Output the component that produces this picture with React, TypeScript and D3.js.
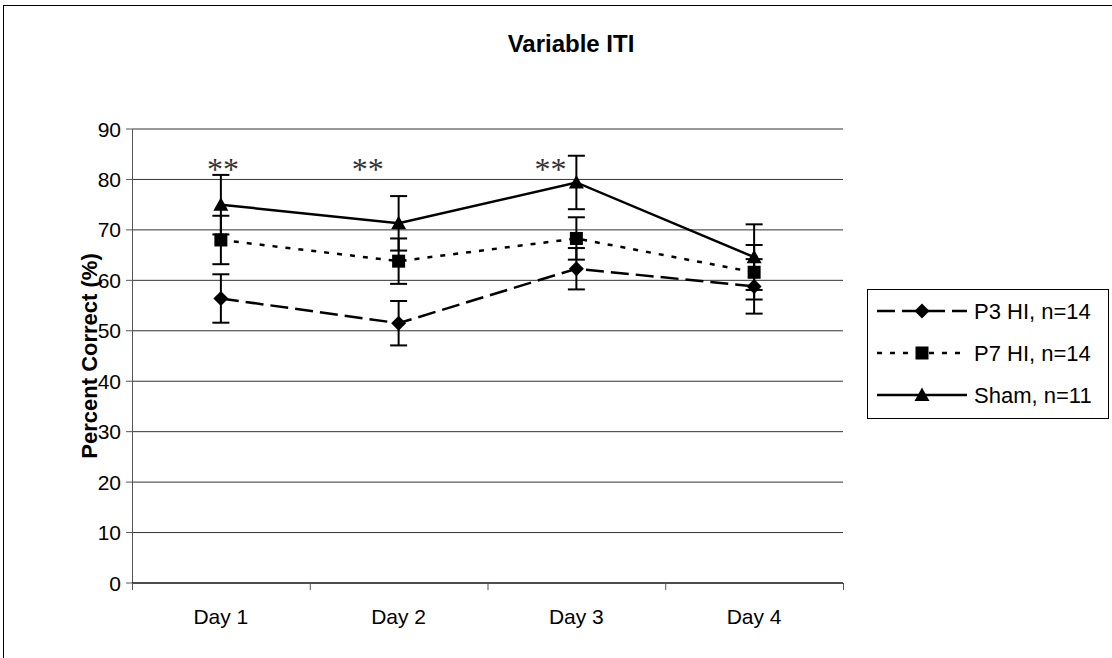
import * as React from 'react';
import * as d3 from 'd3';

const days = ['Day 1', 'Day 2', 'Day 3', 'Day 4'];
const yTicks = [0, 10, 20, 30, 40, 50, 60, 70, 80, 90];

const p3 = [56.4, 51.5, 62.3, 58.8];
const p3Err = [4.8, 4.4, 4.1, 5.4];
const p7 = [68.0, 63.8, 68.3, 61.6];
const p7Err = [4.8, 4.5, 4.2, 5.4];
const sham = [75.0, 71.3, 79.4, 64.6];
const shamErr = [5.9, 5.4, 5.3, 6.5];

const seriesNames = ['P3 HI, n=14', 'P7 HI, n=14', 'Sham, n=11'];
const sigDays = ['Day 1', 'Day 2', 'Day 3'];

const W = 1112;
const H = 658;
const font = "'Liberation Sans', Arial, sans-serif";

// marker shapes centred on 0,0
const diamond = 'M0,-7.5L7.5,0L0,7.5L-7.5,0Z';
const square = 'M-6.5,-6.5H6.5V6.5H-6.5Z';
const triangle = 'M0,-7.5L7.5,6L-7.5,6Z';

const series = [
  { name: seriesNames[0], values: p3, err: p3Err, dash: '18,7', marker: diamond },
  { name: seriesNames[1], values: p7, err: p7Err, dash: '5,8', marker: square },
  { name: seriesNames[2], values: sham, err: shamErr, dash: null, marker: triangle },
];

const App = () => {
  const x = d3.scaleBand().domain(days).range([132, 843]);
  const y = d3.scaleLinear().domain([0, 90]).range([583, 129]);
  const cx = (d) => x(d) + x.bandwidth() / 2;

  const line = d3.line()
    .x((d, i) => cx(days[i]))
    .y((d) => y(d));

  const bounds = [...days.map((d) => x(d)), 843];

  // significance marks sit a little left of the busiest error bars
  const sigShift = [2, -31, -26];

  const legendX = 867;
  const legendY = 289;
  const rowGap = 42;

  return (
    <svg width={W} height={H} style={{ position: 'absolute', left: 0, top: 0, background: '#fff' }}>
      <rect x={3.5} y={5.5} width={1130} height={700} fill="#fff" stroke="#000" strokeWidth={1} />

      <text x={571} y={52} textAnchor="middle" fontFamily={font} fontWeight="bold" fontSize={24}>
        Variable ITI
      </text>

      {/* gridlines */}
      {yTicks.map((t) => (
        <line key={'g' + t} x1={132} x2={843} y1={y(t)} y2={y(t)} stroke="#333" strokeWidth={1} />
      ))}
      {/* y axis */}
      <line x1={132.5} x2={132.5} y1={y(90)} y2={y(0) + 6} stroke="#555" strokeWidth={1} />
      {yTicks.map((t) => (
        <g key={'t' + t}>
          <line x1={126} x2={132} y1={y(t)} y2={y(t)} stroke="#555" />
          <text x={121} y={y(t)} dy="0.36em" textAnchor="end" fontFamily={font} fontSize={21}>
            {t}
          </text>
        </g>
      ))}
      {/* x axis */}
      <line x1={132} x2={843} y1={y(0)} y2={y(0)} stroke="#000" strokeWidth={1} />
      {bounds.map((b, i) => (
        <line key={'xb' + i} x1={b + 0.5} x2={b + 0.5} y1={y(0)} y2={y(0) + 7} stroke="#555" />
      ))}
      {days.map((d) => (
        <text key={d} x={cx(d)} y={624} textAnchor="middle" fontFamily={font} fontSize={21}>
          {d}
        </text>
      ))}

      <text
        transform={`translate(97,${(y(0) + y(90)) / 2}) rotate(-90)`}
        textAnchor="middle"
        fontFamily={font}
        fontWeight="bold"
        fontSize={22}
      >
        Percent Correct (%)
      </text>

      {series.map((s) => (
        <g key={s.name}>
          <path
            d={line(s.values)}
            fill="none"
            stroke="#000"
            strokeWidth={2.5}
            strokeDasharray={s.dash || undefined}
          />
          {s.values.map((v, i) => {
            const px = cx(days[i]);
            const top = y(v + s.err[i]);
            const bot = y(v - s.err[i]);
            return (
              <g key={i}>
                <line x1={px} x2={px} y1={top} y2={bot} stroke="#000" strokeWidth={2} />
                <line x1={px - 8.5} x2={px + 8.5} y1={top} y2={top} stroke="#000" strokeWidth={2} />
                <line x1={px - 8.5} x2={px + 8.5} y1={bot} y2={bot} stroke="#000" strokeWidth={2} />
                <path d={s.marker} transform={`translate(${px},${y(v)})`} fill="#000" />
              </g>
            );
          })}
        </g>
      ))}

      {sigDays.map((d, i) => (
        <text
          key={'sig' + d}
          x={cx(d) + sigShift[i]}
          y={180}
          textAnchor="middle"
          fontFamily="'Liberation Serif', 'Times New Roman', serif"
          fontSize={32}
          fill="#333"
        >
          **
        </text>
      ))}

      {/* legend */}
      <rect x={legendX + 0.5} y={legendY + 0.5} width={241} height={129} fill="#fff" stroke="#000" />
      {series.map((s, i) => {
        const ly = legendY + 22 + i * rowGap;
        return (
          <g key={'lg' + i}>
            <line
              x1={legendX + 10}
              x2={legendX + 100}
              y1={ly}
              y2={ly}
              stroke="#000"
              strokeWidth={2.5}
              strokeDasharray={s.dash || undefined}
            />
            <path d={s.marker} transform={`translate(${legendX + 55},${ly})`} fill="#000" />
            <text x={legendX + 107} y={ly} dy="0.36em" fontFamily={font} fontSize={22}>
              {s.name}
            </text>
          </g>
        );
      })}
    </svg>
  );
};

export default App;
